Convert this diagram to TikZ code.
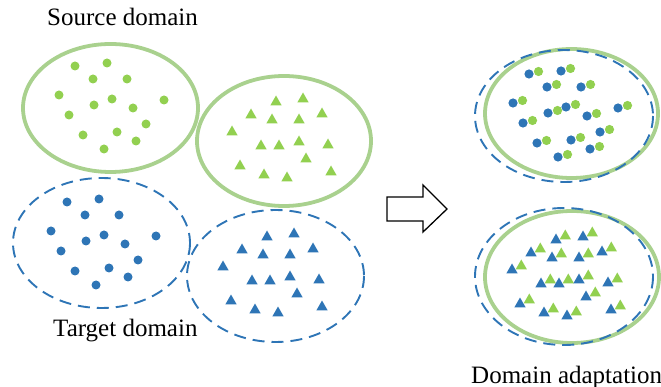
\documentclass[tikz,border=0pt]{standalone}
\usepackage{fontspec}
\setmainfont{Liberation Serif}
\newfontfamily\tnrfont{Liberation Serif}
\begin{document}
\begin{tikzpicture}[x=1pt,y=-1pt,
  gellipse/.style={draw=ellgreen,line width=3.8pt},
  bellipse/.style={draw=dotblue,line width=1.9pt,dash pattern=on 12pt off 7pt},
  lbl/.style={inner sep=0pt,anchor=base west,font=\tnrfont\fontsize{25}{28}\selectfont}]
\definecolor{ellgreen}{HTML}{A9D18E}
\definecolor{dotgreen}{HTML}{92D050}
\definecolor{dotblue}{HTML}{2E75B6}
\useasboundingbox (0,0) rectangle (661,387);
\def\dotpattern{75/66,107/63,93/79,127/79,59/95,164/100,94/105,112/99,133/108,69/115,146/124,83/135,117/132,136/141,104/149}
\def\tripattern{276/101,303/98,251/114,272/119,299/119,322/113,232/131,261/145,279/145,299/141,328/144,306/158,240/165,264/174,287/177,331/171}
% ---- source domain (circles)
\draw[gellipse] (110.5,108) ellipse [x radius=87.5,y radius=64];
\foreach \x/\y in \dotpattern {\fill[dotgreen] (\x,\y) circle[radius=4.5];}
% ---- source domain (triangles)
\draw[gellipse] (284,141) ellipse [x radius=87,y radius=65];
\foreach \x/\y in \tripattern {\fill[dotgreen] (\x,\y-5.5) -- (\x+5.6,\y+4.3) -- (\x-5.6,\y+4.3) -- cycle;}
% ---- target domain (circles)
\draw[bellipse] (101.5,243) ellipse [x radius=88.5,y radius=65];
\begin{scope}[shift={(-8,136)}]
\foreach \x/\y in \dotpattern {\fill[dotblue] (\x,\y) circle[radius=4.5];}
\end{scope}
% ---- target domain (triangles)
\draw[bellipse] (275.5,276) ellipse [x radius=88.5,y radius=66];
\begin{scope}[shift={(-9,135)}]
\foreach \x/\y in \tripattern {\fill[dotblue] (\x,\y-5.5) -- (\x+5.6,\y+4.3) -- (\x-5.6,\y+4.3) -- cycle;}
\end{scope}
% ---- arrow
\draw[line width=1.3pt,line join=miter] (387,197) -- (423,197) -- (423,185) -- (447,209) -- (423,232) -- (423,221) -- (387,221) -- cycle;
% ---- adapted (circles)
\draw[gellipse] (571.5,113.5) ellipse [x radius=86.5,y radius=64.5];
\draw[bellipse] (564,116) ellipse [x radius=89,y radius=66];
\begin{scope}[shift={(454,8)}]
\foreach \x/\y in \dotpattern {\fill[dotblue] (\x,\y) circle[radius=4.6];
  \fill[dotgreen] (\x+9.5,\y-2.5) circle[radius=4.6];}
\end{scope}
% ---- adapted (triangles)
\draw[gellipse] (572,277) ellipse [x radius=87,y radius=66];
\draw[bellipse] (564,276.5) ellipse [x radius=89,y radius=68.5];
\begin{scope}[shift={(280,138)}]
\foreach \x/\y in \tripattern {\fill[dotblue] (\x,\y-5.5) -- (\x+5.6,\y+4.3) -- (\x-5.6,\y+4.3) -- cycle;
  \fill[dotgreen] (\x+9.3,\y-9.5) -- (\x+14.9,\y+0.3) -- (\x+3.7,\y+0.3) -- cycle;}
\end{scope}
% ---- labels
\node[lbl] (src) at (47,26) {Source domain};
\node[lbl] (tgt) at (53,336) {Target domain};
\node[lbl] (da) at (471,383) {Domain adaptation};
\end{tikzpicture}
\end{document}
